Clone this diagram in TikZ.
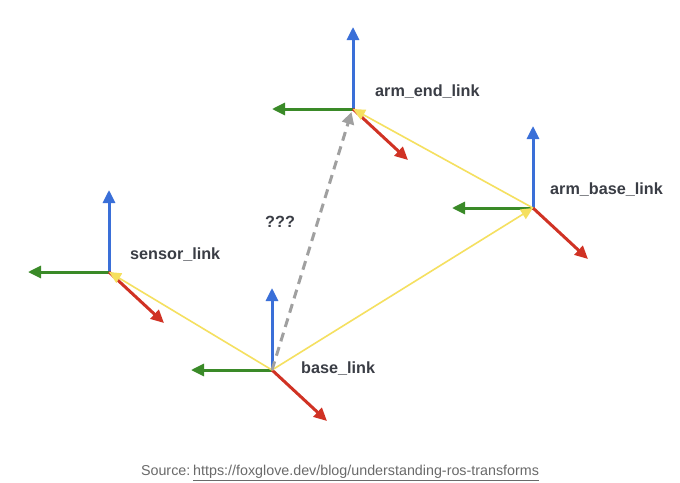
\documentclass[tikz,border=0pt]{standalone}
\usepackage{fontspec}
\setmainfont{Liberation Sans}
\usetikzlibrary{arrows.meta,calc}
\definecolor{axblue}{HTML}{3A6FD8}
\definecolor{axgreen}{HTML}{3A8A28}
\definecolor{axred}{HTML}{D03224}
\definecolor{tfyellow}{HTML}{F5E060}
\definecolor{qgray}{HTML}{A0A0A0}
\definecolor{labtext}{HTML}{3A3D45}
\definecolor{srctext}{HTML}{6A6A6A}
\tikzset{
  axis/.style={line width=3pt,-{Triangle[length=13pt,width=12pt]}},
  tfline/.style={tfyellow,line width=1.6pt,-{Triangle[length=12pt,width=11pt]}},
  qline/.style={qgray,line width=3pt,dash pattern=on 9pt off 6pt,-{Triangle[length=12pt,width=12pt]}},
  framelabel/.style={text=labtext,font=\bfseries\fontsize{16.2}{18}\selectfont,inner sep=0pt,anchor=west}
}
\begin{document}
\begin{tikzpicture}[x=1pt,y=-1pt]
\useasboundingbox[fill=white] (0,0) rectangle (680,482);
% origins
\coordinate (base) at (272,370);
\coordinate (armend) at (353,109);
\coordinate (armbase) at (533,208);
\coordinate (sensor) at (109,272);
\coordinate (qend) at (351.5,112);
% frames
\foreach \o in {base,armend,armbase,sensor}{
  \draw[axis,axblue] (\o) -- ++(0,-82);
  \draw[axis,axgreen] (\o) -- ++(-81,0);
  \draw[axis,axred] (\o) -- ++(55,51);
}
% transforms
\draw[tfline] (base) -- (sensor);
\draw[tfline] (base) -- (armbase);
\draw[tfline] (armbase) -- (armend);
\draw[qline] (base) -- (qend);
% labels
\node[framelabel] (lbase) at (301,369) {base\_link};
\node[framelabel] (larmend) at (375,92) {arm\_end\_link};
\node[framelabel] (larmbase) at (550,190) {arm\_base\_link};
\node[framelabel] (lsensor) at (130,255) {sensor\_link};
\node[framelabel] (lq) at (265,222) {???};
\node[text=srctext,font=\fontsize{14.3}{16}\selectfont,inner sep=0pt] (src) at (340,473)
  {Source:\hspace{0.2em}\underline{https://foxglove.dev/blog/understanding-ros-transforms}};
\end{tikzpicture}
\end{document}
